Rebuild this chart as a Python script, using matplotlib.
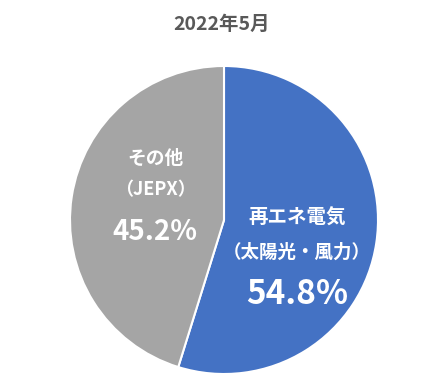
import matplotlib
matplotlib.use("Agg")
import matplotlib.pyplot as plt

plt.rcParams['font.family'] = ['Noto Sans CJK JP', 'DejaVu Sans']

title = "2022年5月"
categories = ["再エネ電気\n（太陽光・風力）", "その他\n（JEPX）"]
values = [54.8, 45.2]
colors = ["#4472C4", "#A5A5A5"]

W, H = 439, 387
fig = plt.figure(figsize=(W / 100, H / 100), dpi=100)
cx, cy, r = 224, 220, 154
ax = fig.add_axes([(cx - r) / W, (H - cy - r) / H, 2 * r / W, 2 * r / H])
ax.pie(values, colors=colors, startangle=90, counterclock=False,
       wedgeprops=dict(edgecolor="white", linewidth=1.5), radius=1.0)
ax.set_xlim(-1, 1)
ax.set_ylim(-1, 1)
ax.set_aspect("auto")
ax.axis("off")

def pos(px, py):
    return ((px - cx) / r, (cy - py) / r)

# label positions (pixel-based placement)
lab_pos = [(297, [(218, 14), (252, 13.3), (295, 24)]),
           (155, [(158, 13.5), (190, 13), (232, 20)])]
for (px, rows), cat, v in zip(lab_pos, categories, values):
    lines = cat.split("\n") + [f"{v:.1f}%"]
    for (py, fs), txt in zip(rows, lines):
        x, y = pos(px, py)
        ax.text(x, y, txt, ha="center", va="center", color="white",
                fontsize=fs, fontweight="bold")

fig.text(222 / W, 1 - 24 / H, title, ha="center", va="center",
         color="#595959", fontsize=14, fontweight="bold")

fig.savefig("out.png", dpi=100, facecolor="white")
